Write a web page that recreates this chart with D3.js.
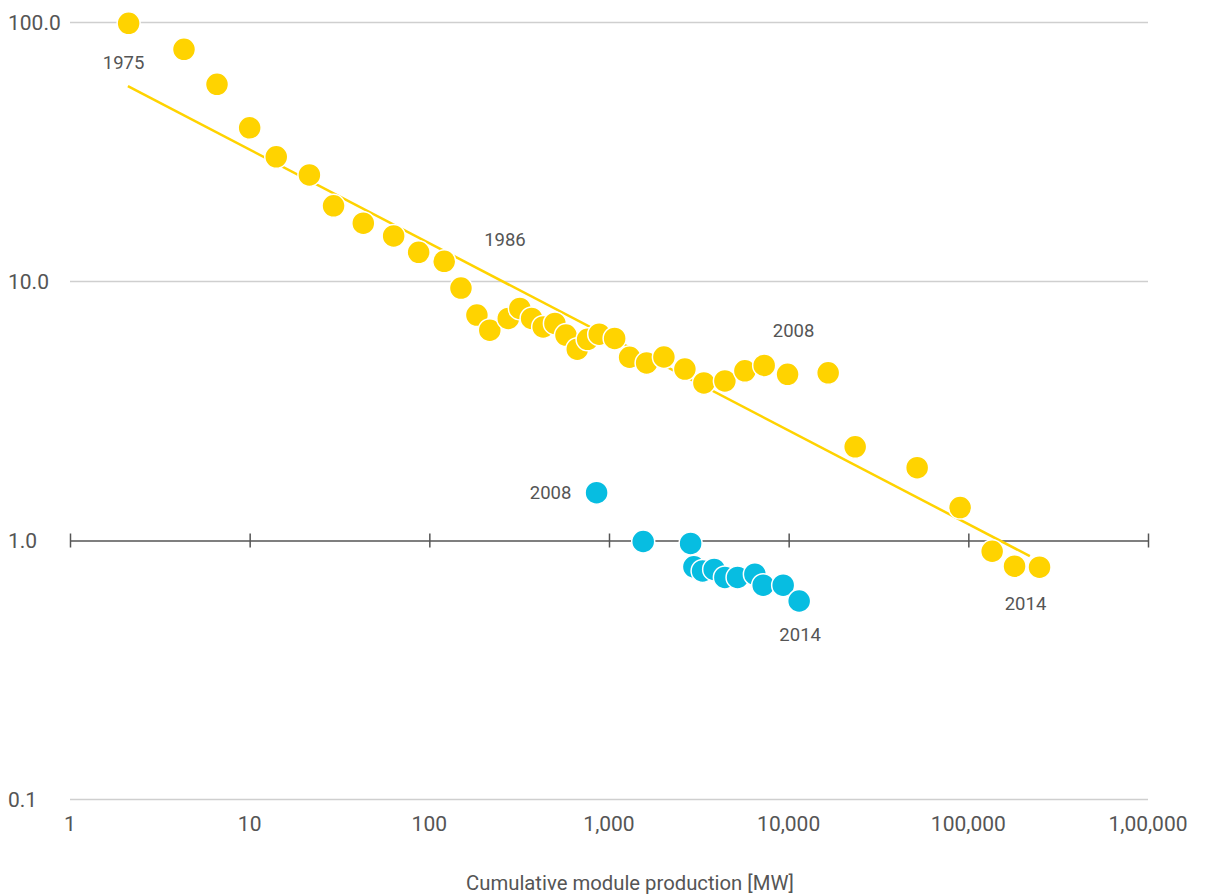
<!DOCTYPE html>
<html><head><meta charset="utf-8">
<script src="https://cdn.jsdelivr.net/npm/d3@7"></script>
<style>
html,body{margin:0;padding:0;background:#fff;}
text{font-family:Roboto,"Noto Sans",sans-serif;fill:#555;}
</style></head>
<body><svg id="c" width="1206" height="896"></svg>
<script>
// Yellow series: cumulative production (MW) vs price
const yellowX = [2.12,4.31,6.58,10.0,14.06,21.5,29.3,42.9,63.3,87.2,121,150,184,217,275,319,371,430,500,576,666,760,882,1075,1302,1619,2021,2645,3374,4416,5706,7306,9860,16590,23450,51900,90000,135700,180800,249000];
const yellowY = [99.3,78.8,57.7,39.2,30.3,25.8,19.6,16.8,15.0,12.96,11.96,9.43,7.42,6.49,7.20,7.87,7.20,6.68,6.89,6.21,5.48,5.98,6.26,6.03,5.10,4.85,5.11,4.59,4.06,4.13,4.52,4.74,4.38,4.44,2.30,1.91,1.34,0.909,0.796,0.789];
// Blue series
const blueX = [853,1550,2846,2969,3318,3848,4416,5195,6485,7213,9320,11440];
const blueY = [1.53,0.991,0.974,0.791,0.763,0.773,0.720,0.720,0.741,0.672,0.672,0.584];
// Trend line endpoints
const trendX = [2.1,220000];
const trendY = [56.8,0.87];
// Tick values & labels
const xTicks = [1,10,100,1000,10000,100000,1000000];
const xTickLabels = ["1","10","100","1,000","10,000","100,000","1,00,000"];
const yTicks = [100,10,1,0.1];
const yTickLabels = ["100.0","10.0","1.0","0.1"];
// Annotations
const yellowNotes = [{t:"1975",x:2.12,y:99.3,dx:-5,dy:39},{t:"1986",x:150,y:11.96,dx:44,dy:-22},{t:"2008",x:9860,y:4.74,dx:6,dy:-35},{t:"2014",x:249000,y:0.789,dx:-14,dy:36}];
const blueNotes = [{t:"2008",x:853,y:1.53,dx:-46,dy:0},{t:"2014",x:11440,y:0.584,dx:1,dy:34}];

const svg = d3.select("#c");
const x = d3.scaleLog().domain([1,1000000]).range([70,1148]);
const y = d3.scaleLog().domain([0.1,100]).range([799.5,22.5]);
const YEL = "#FFD300", BLU = "#07BDE1";

// grid lines
svg.append("g").selectAll("line").data(yTicks.filter(d=>d!==1)).join("line")
  .attr("x1",70).attr("x2",1148).attr("y1",d=>y(d)).attr("y2",d=>y(d))
  .attr("stroke","#cfcfcf").attr("stroke-width",1.5);

// y tick labels
svg.append("g").selectAll("text").data(yTicks).join("text")
  .attr("x",8).attr("y",d=>y(d)).attr("dy","0.35em")
  .attr("font-size",21).text((d,i)=>yTickLabels[i]);

// axis at y=1
const ax = svg.append("g").attr("transform",`translate(0,${y(1)})`)
  .call(d3.axisBottom(x).tickValues(xTicks).tickSize(0).tickFormat(""));
ax.select(".domain").attr("stroke","#555").attr("stroke-width",1.5);
ax.selectAll(".tick line").attr("y1",-7).attr("y2",7).attr("stroke","#555").attr("stroke-width",1.5);

// x tick labels
svg.append("g").selectAll("text").data(xTicks).join("text")
  .attr("x",d=>x(d)).attr("y",824).attr("dy","0.35em").attr("text-anchor","middle")
  .attr("font-size",21).text((d,i)=>xTickLabels[i]);

// axis title
svg.append("text").attr("x",630).attr("y",883).attr("dy","0.35em").attr("text-anchor","middle")
  .attr("font-size",20.3).text("Cumulative module production [MW]");

// trend line
svg.append("path").datum(trendX.map((d,i)=>[d,trendY[i]]))
  .attr("d",d3.line().x(d=>x(d[0])).y(d=>y(d[1])))
  .attr("stroke",YEL).attr("stroke-width",2.5).attr("fill","none");

// dots
function dots(xs,ys,col){
  svg.append("g").selectAll("circle").data(xs.map((d,i)=>[d,ys[i]])).join("circle")
    .attr("cx",d=>x(d[0])).attr("cy",d=>y(d[1])).attr("r",11.5)
    .attr("fill",col).attr("stroke","#fff").attr("stroke-width",1.5);
}
dots(yellowX,yellowY,YEL);
dots(blueX,blueY,BLU);

// annotations
svg.append("g").selectAll("text").data(yellowNotes.concat(blueNotes)).join("text")
  .attr("x",d=>x(d.x)+d.dx).attr("y",d=>y(d.y)+d.dy).attr("dy","0.35em").attr("text-anchor","middle")
  .attr("font-size",18.5).text(d=>d.t);
</script></body></html>
